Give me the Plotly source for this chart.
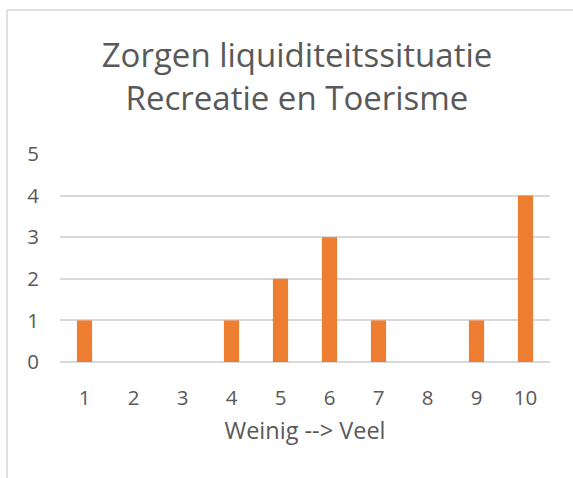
import plotly.graph_objects as go

# Scores 1..10 and how many respondents picked each
categories = ["1", "2", "3", "4", "5", "6", "7", "8", "9", "10"]
counts = [1, 0, 0, 1, 2, 3, 1, 0, 1, 4]
y_ticks = [0, 1, 2, 3, 4, 5]

title_lines = ["Zorgen liquiditeitssituatie", "Recreatie en Toerisme"]
x_title = "Weinig --> Veel"

W, H = 573, 478
# plot area in pixels
PL, PR, PT, PB = 60, 550, 154, 362
TEXT = "#595959"
GRID = "#D9D9D9"
FONT = "Open Sans"

fig = go.Figure(
    go.Bar(
        x=categories,
        y=counts,
        marker=dict(color="#ED7D31", line=dict(width=0)),
        width=0.31,
        hoverinfo="x+y",
    )
)

# chart frame (left and top edges visible)
fx0 = (7 - PL) / (PR - PL)
fy1 = (PB - 10) / (PB - PT)
fig.add_shape(type="line", xref="paper", yref="paper",
              x0=fx0, x1=(W + 20 - PL) / (PR - PL), y0=fy1, y1=fy1,
              line=dict(color="#D6D6D6", width=1.5))
fig.add_shape(type="line", xref="paper", yref="paper",
              x0=fx0, x1=fx0, y0=fy1, y1=(PB - H - 20) / (PB - PT),
              line=dict(color="#D6D6D6", width=1.5))

fig.update_layout(
    width=W,
    height=H,
    margin=dict(l=PL, r=W - PR, t=PT, b=H - PB, pad=0),
    paper_bgcolor="white",
    plot_bgcolor="white",
    showlegend=False,
    font=dict(family=FONT, color=TEXT),
    title=dict(
        text="<br>".join(title_lines),
        x=297 / W,
        xref="container",
        xanchor="center",
        y=1 - 67 / H,
        yref="container",
        yanchor="middle",
        font=dict(family=FONT, size=33, color=TEXT),
    ),
    xaxis=dict(
        type="category",
        showgrid=False,
        showline=False,
        ticks="",
        tickfont=dict(size=20.5, color=TEXT),
        ticklabelstandoff=21,
        title=dict(text=x_title, font=dict(size=23.5, color=TEXT), standoff=13),
        fixedrange=True,
    ),
    yaxis=dict(
        range=[0, 5],
        tickvals=y_ticks,
        showgrid=True,
        gridcolor=GRID,
        gridwidth=1.5,
        zeroline=True,
        zerolinecolor=GRID,
        zerolinewidth=1.5,
        showline=False,
        ticks="",
        tickfont=dict(size=20.5, color=TEXT),
        ticklabelstandoff=20,
        fixedrange=True,
    ),
    bargap=0.69,
)

fig.write_html("out.html", config={"displayModeBar": False})
